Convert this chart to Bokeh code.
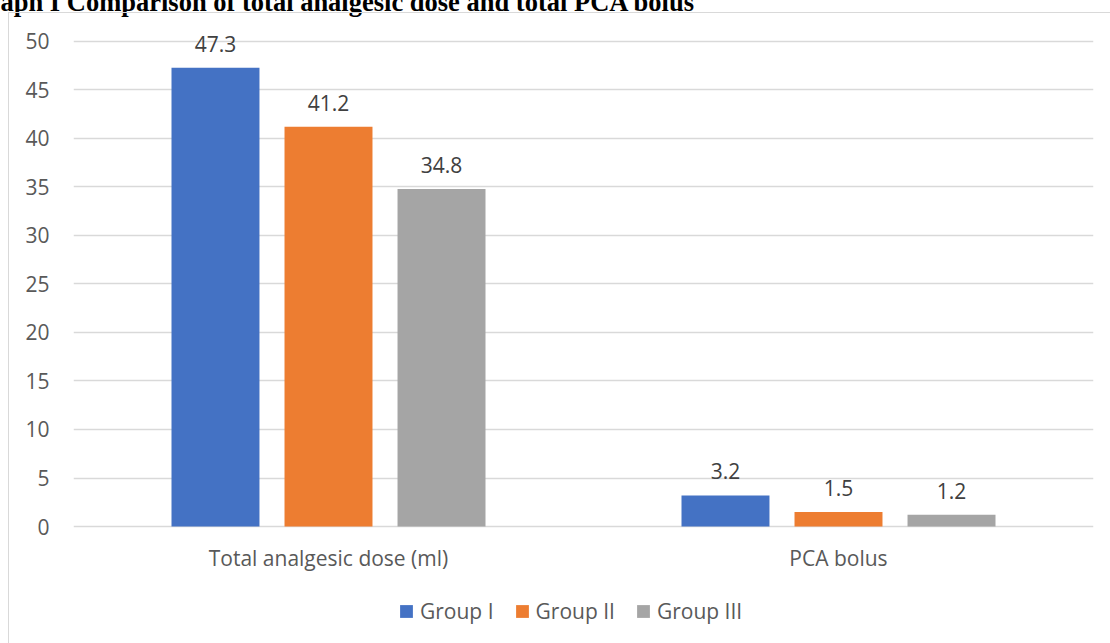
from bokeh.plotting import figure
from bokeh.models import (ColumnDataSource, FactorRange, Range1d, Legend, LegendItem,
                          FixedTicker, InlineStyleSheet)
from bokeh.transform import dodge
from bokeh.core.properties import value
from bokeh.embed import file_html
from bokeh.resources import INLINE

title_text = "aph I Comparison of total analgesic dose and total PCA bolus"
categories = ["Total analgesic dose (ml)", "PCA bolus"]
series_names = ["Group I", "Group II", "Group III"]
group1 = [47.3, 3.2]
group2 = [41.2, 1.5]
group3 = [34.8, 1.2]
y_ticks = [0, 5, 10, 15, 20, 25, 30, 35, 40, 45, 50]

colors = ["#4472C4", "#ED7D31", "#A5A5A5"]
FONT = "Open Sans"
FS = "21px"
SHIFT = 36  # part of the canvas hidden above the window (title is cut off in the reference)

src = ColumnDataSource(dict(
    cat=categories, g1=group1, g2=group2, g3=group3,
    l1=[str(v) for v in group1], l2=[str(v) for v in group2], l3=[str(v) for v in group3],
))

# frame spans from under the title down to the legend row; the x axis sits at y = 0
p = figure(frame_width=1020, frame_height=597, x_range=FactorRange(*categories, range_padding=0),
           y_range=Range1d(-10.72, 50.82), output_backend="svg", toolbar_location=None,
           min_border_left=73, min_border_right=17, min_border_top=33 + SHIFT, min_border_bottom=40)
p.outline_line_color = None
p.background_fill_color = "white"
p.border_fill_color = "white"
p.styles = {"margin-top": f"-{SHIFT}px"}

p.title.text = title_text
p.title.align = "left"
p.title.offset = -73
p.title.standoff = 34
p.title.text_font = "Liberation Serif"
p.title.text_font_style = "bold"
p.title.text_font_size = "26.5px"
p.title.text_color = "black"

offsets = [-0.2216, 0.0, 0.2216]
cols = ["g1", "g2", "g3"]
lcols = ["l1", "l2", "l3"]
renderers = []
for off, c, lc, col in zip(offsets, cols, lcols, colors):
    r = p.vbar(x=dodge("cat", off, range=p.x_range), top=c, bottom=0, width=0.1725, source=src,
               fill_color=col, line_color=None)
    renderers.append(r)
    p.text(x=dodge("cat", off, range=p.x_range), y=c, text=lc, source=src,
           text_align="center", text_baseline="bottom", y_offset=-16,
           text_font=value(FONT), text_font_size=FS, text_color="#404040")

p.yaxis.ticker = FixedTicker(ticks=y_ticks)
p.yaxis.axis_line_color = None
p.yaxis.major_tick_line_color = None
p.yaxis.minor_tick_line_color = None
p.yaxis.major_label_standoff = 18
p.yaxis.major_label_text_font = FONT
p.yaxis.major_label_text_font_size = FS
p.yaxis.major_label_text_color = "#595959"

p.xaxis.fixed_location = 0
p.xaxis.axis_line_color = None
p.xaxis.major_tick_line_color = None
p.xaxis.minor_tick_line_color = None
p.xaxis.major_label_standoff = 11
p.xaxis.major_label_text_font = FONT
p.xaxis.major_label_text_font_size = FS
p.xaxis.major_label_text_color = "#595959"

p.xgrid.grid_line_color = None
p.ygrid.grid_line_color = "#d9d9d9"
p.ygrid.grid_line_width = 1.5

legend = Legend(items=[LegendItem(label=n, renderers=[r]) for n, r in zip(series_names, renderers)],
                orientation="horizontal", location=(325, 5),
                glyph_width=16, glyph_height=16, label_standoff=6, spacing=20,
                padding=0, margin=0, border_line_color=None, background_fill_alpha=0,
                label_text_font=FONT, label_text_font_size=FS, label_text_color="#595959",
                label_height=20)
p.add_layout(legend, "center")

p.stylesheets = [InlineStyleSheet(css=f"""
:host {{ position: relative; }}
:host::after {{ content: ''; position: absolute; left: 8px; top: {12 + SHIFT}px; right: -20px; bottom: -20px;
  border: 1.5px solid #d9d9d9; pointer-events: none; z-index: 5; }}
""")]

open("out.html", "w").write(file_html(p, INLINE))
